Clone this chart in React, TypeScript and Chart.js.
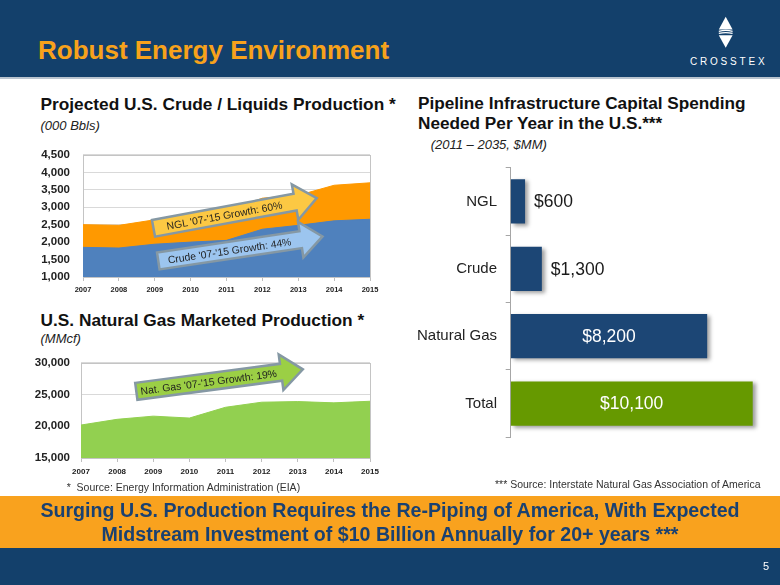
import React, { useEffect, useRef } from 'react';
import { Chart, registerables } from 'chart.js';

Chart.register(...registerables);

const FONT = "'Liberation Sans', Arial, Helvetica, sans-serif";

// ---- Data ----
const years = ['2007', '2008', '2009', '2010', '2011', '2012', '2013', '2014', '2015'];
const crudeProduction = [1850, 1830, 1940, 2000, 2050, 2370, 2480, 2610, 2655];
const totalLiquids = [2500, 2480, 2640, 2740, 2880, 3260, 3340, 3630, 3700];
const natGasProduction = [20200, 21100, 21600, 21300, 23000, 23800, 23900, 23700, 23950];
const spendCategories = ['NGL', 'Crude', 'Natural Gas', 'Total'];
const spendValues = [600, 1300, 8200, 10100];

const NAVY = '#1c4675';
const GREEN_BAR = '#669900';

const fmt = (v: any) => Number(v).toLocaleString('en-US');

const plotBorder = {
  id: 'plotBorder',
  beforeDatasetsDraw(chart: any) {
    const { ctx, chartArea: a } = chart;
    ctx.save();
    ctx.strokeStyle = '#c4c4c4';
    ctx.lineWidth = 1;
    ctx.strokeRect(Math.round(a.left) + 0.5, Math.round(a.top) + 0.5, Math.round(a.right - a.left), Math.round(a.bottom - a.top));
    ctx.restore();
  },
};

const barShadow = {
  id: 'barShadow',
  beforeDatasetDraw(chart: any) {
    const ctx = chart.ctx;
    ctx.save();
    ctx.shadowColor = 'rgba(0,0,0,0.38)';
    ctx.shadowBlur = 4;
    ctx.shadowOffsetX = 3;
    ctx.shadowOffsetY = 2;
  },
  afterDatasetDraw(chart: any) {
    chart.ctx.restore();
  },
};

const barLabels = {
  id: 'barLabels',
  afterDatasetsDraw(chart: any) {
    const ctx = chart.ctx;
    const meta = chart.getDatasetMeta(0);
    ctx.save();
    ctx.font = `17.5px ${FONT}`;
    ctx.textBaseline = 'middle';
    meta.data.forEach((el: any, i: number) => {
      const v = spendValues[i];
      const txt = '$' + fmt(v);
      if (v < 3000) {
        ctx.fillStyle = '#1a1a1a';
        ctx.textAlign = 'left';
        ctx.fillText(txt, el.x + 9, el.y + 1);
      } else {
        ctx.fillStyle = '#ffffff';
        ctx.textAlign = 'center';
        ctx.fillText(txt, (el.x + el.base) / 2, el.y + 1);
      }
    });
    ctx.restore();
  },
};

function useChart(ref: React.RefObject<HTMLCanvasElement>, make: () => any) {
  useEffect(() => {
    if (!ref.current) return;
    const c = new Chart(ref.current, make());
    return () => c.destroy();
  }, []);
}

function Arrow({ x, y, angle, len, fill, label }: any) {
  const t = 17, T = 36, h = 22;
  const pts = [
    [0, -t / 2], [len - h, -t / 2], [len - h, -T / 2], [len, 0],
    [len - h, T / 2], [len - h, t / 2], [0, t / 2],
  ].map((p) => p.join(',')).join(' ');
  return (
    <g transform={`translate(${x},${y}) rotate(${angle})`}>
      <polygon points={pts} fill={fill} stroke="#8598a4" strokeWidth={2.5} />
      <text x={(len - h) / 2} y={0.5} textAnchor="middle" dominantBaseline="central"
        fontSize={10.4} fontFamily={FONT} fill="#1e1e1e">{label}</text>
    </g>
  );
}

const txt = (extra: React.CSSProperties): React.CSSProperties => ({
  position: 'absolute', whiteSpace: 'pre', lineHeight: 1, fontFamily: FONT, ...extra,
});

export default function App() {
  const liquidsRef = useRef<HTMLCanvasElement>(null);
  const gasRef = useRef<HTMLCanvasElement>(null);
  const spendRef = useRef<HTMLCanvasElement>(null);

  useEffect(() => {
    document.body.style.margin = '0';
  }, []);

  useChart(liquidsRef, () => ({
    type: 'line',
    data: {
      labels: years,
      datasets: [
        { label: 'Crude', data: crudeProduction, fill: 'start', backgroundColor: '#4f81bd', borderColor: '#4f81bd', borderWidth: 1, pointRadius: 0, tension: 0 },
        { label: 'Crude + NGL', data: totalLiquids, fill: 'start', backgroundColor: '#ff9900', borderColor: '#ff9900', borderWidth: 1, pointRadius: 0, tension: 0 },
      ],
    },
    options: {
      animation: false, responsive: false,
      layout: { padding: { left: 8, right: 20, top: 8, bottom: 0 } },
      plugins: { legend: { display: false }, tooltip: { enabled: false } },
      scales: {
        x: {
          grid: { drawOnChartArea: false, drawTicks: true, tickLength: 4, color: '#bfbfbf' },
          border: { display: false },
          ticks: { font: { size: 7.5, weight: 'bold', family: FONT }, color: '#222', padding: 4, maxRotation: 0, autoSkip: false },
          afterFit: (s: any) => { s.height = 23; },
        },
        y: {
          min: 1000, max: 4500,
          ticks: { stepSize: 500, font: { size: 11.5, weight: 'bold', family: FONT }, color: '#222', padding: 13, callback: fmt },
          grid: { color: '#d9d9d9', drawTicks: false },
          border: { display: false },
          afterFit: (s: any) => { s.width = 55; },
        },
      },
    },
    plugins: [plotBorder],
  }));

  useChart(gasRef, () => ({
    type: 'line',
    data: {
      labels: years,
      datasets: [
        { label: 'Natural Gas', data: natGasProduction, fill: 'start', backgroundColor: '#92d050', borderColor: '#92d050', borderWidth: 1, pointRadius: 0, tension: 0 },
      ],
    },
    options: {
      animation: false, responsive: false,
      layout: { padding: { left: 6, right: 20, top: 10, bottom: 0 } },
      plugins: { legend: { display: false }, tooltip: { enabled: false } },
      scales: {
        x: {
          grid: { drawOnChartArea: false, drawTicks: true, tickLength: 4, color: '#bfbfbf' },
          border: { display: false },
          ticks: { font: { size: 8, weight: 'bold', family: FONT }, color: '#222', padding: 5, maxRotation: 0, autoSkip: false },
          afterFit: (s: any) => { s.height = 27; },
        },
        y: {
          min: 15000, max: 30000,
          ticks: { stepSize: 5000, font: { size: 11.5, weight: 'bold', family: FONT }, color: '#222', padding: 11, callback: fmt },
          grid: { color: '#d9d9d9', drawTicks: false },
          border: { display: false },
          afterFit: (s: any) => { s.width = 55; },
        },
      },
    },
    plugins: [plotBorder],
  }));

  useChart(spendRef, () => ({
    type: 'bar',
    data: {
      labels: spendCategories,
      datasets: [{
        label: 'Capital spending',
        data: spendValues,
        backgroundColor: [NAVY, NAVY, NAVY, GREEN_BAR],
        barPercentage: 0.657, categoryPercentage: 1,
      }],
    },
    options: {
      indexAxis: 'y',
      animation: false, responsive: false,
      layout: { padding: { top: 8.3, bottom: 6.7, left: 0, right: 9.7 } },
      plugins: { legend: { display: false }, tooltip: { enabled: false } },
      scales: {
        x: { display: false, min: 0, max: 10500 },
        y: {
          grid: { drawOnChartArea: false, drawTicks: true, tickLength: 5, color: '#a6a6a6' },
          border: { color: '#a6a6a6' },
          ticks: { font: { size: 15, family: FONT }, color: '#222', padding: 8.7 },
          afterFit: (s: any) => { s.width = 110.7; },
        },
      },
    },
    plugins: [barShadow, barLabels],
  }));

  return (
    <div style={{ position: 'absolute', left: 0, top: 0, width: 780, height: 585, background: '#ffffff', overflow: 'hidden', fontFamily: FONT }}>
      {/* header */}
      <div style={{ position: 'absolute', left: 0, top: 0, width: 780, height: 77, background: '#13406b' }} />
      <div style={{ position: 'absolute', left: 0, top: 77, width: 780, height: 2, background: '#b9c4cf' }} />
      <div style={txt({ left: 38, top: 37.3, fontSize: 26, fontWeight: 'bold', color: '#f7a21b' })}>Robust Energy Environment</div>
      <div style={txt({ left: 690, top: 56.5, fontSize: 10, color: '#ffffff', letterSpacing: 2.8 })}>CROSSTEX</div>

      {/* section titles */}
      <div style={txt({ left: 40.5, top: 95.5, fontSize: 17.3, fontWeight: 'bold', color: '#111' })}>Projected U.S. Crude / Liquids Production *</div>
      <div style={txt({ left: 40.5, top: 119, fontSize: 13, fontStyle: 'italic', color: '#222' })}>(000 Bbls)</div>
      <div style={txt({ left: 40.5, top: 311.5, fontSize: 17.3, fontWeight: 'bold', color: '#111' })}>U.S. Natural Gas Marketed Production *</div>
      <div style={txt({ left: 40.5, top: 332, fontSize: 13, fontStyle: 'italic', color: '#222' })}>(MMcf)</div>
      <div style={txt({ left: 418, top: 95, fontSize: 17.2, fontWeight: 'bold', color: '#111' })}>Pipeline Infrastructure Capital Spending</div>
      <div style={txt({ left: 418, top: 114.7, fontSize: 17.2, fontWeight: 'bold', color: '#111' })}>Needed Per Year in the U.S.***</div>
      <div style={txt({ left: 430.7, top: 137.6, fontSize: 13, fontStyle: 'italic', color: '#222' })}>(2011 – 2035, $MM)</div>

      {/* charts */}
      <canvas ref={liquidsRef} width={370} height={165} style={{ position: 'absolute', left: 20, top: 135, width: 370, height: 165 }} />
      <canvas ref={gasRef} width={370} height={140} style={{ position: 'absolute', left: 20, top: 345, width: 370, height: 140 }} />
      <canvas ref={spendRef} width={372} height={305} style={{ position: 'absolute', left: 400, top: 150, width: 372, height: 305 }} />

      {/* footnotes */}
      <div style={txt({ left: 66.7, top: 481.5, fontSize: 10.5, color: '#333' })}>{'*  Source: Energy Information Administration (EIA)'}</div>
      <div style={txt({ left: 495, top: 479, fontSize: 10.5, color: '#333' })}>*** Source: Interstate Natural Gas Association of America</div>

      {/* bottom bands */}
      <div style={{ position: 'absolute', left: 0, top: 496, width: 780, height: 52, background: '#f9a21e' }} />
      <div style={{ position: 'absolute', left: 0, top: 548, width: 780, height: 37, background: '#13406b' }} />
      <div style={txt({ left: 0, width: 780, textAlign: 'center', top: 501, fontSize: 19.6, fontWeight: 'bold', color: '#1a4171' })}>Surging U.S. Production Requires the Re-Piping of America, With Expected</div>
      <div style={txt({ left: 0, width: 780, textAlign: 'center', top: 524.8, fontSize: 19.6, fontWeight: 'bold', color: '#1a4171' })}>Midstream Investment of $10 Billion Annually for 20+ years ***</div>
      <div style={txt({ left: 763, top: 561, fontSize: 11, color: '#ffffff' })}>5</div>

      {/* overlay: arrows and logo */}
      <svg width={780} height={585} style={{ position: 'absolute', left: 0, top: 0, pointerEvents: 'none' }}>
        <polygon points="725.7,16.7 732.6,29.5 718.8,29.5" fill="#ffffff" />
        <path d="M718.8,31.3 Q725.7,29.6 732.6,31.3" stroke="#ffffff" strokeWidth={1.2} fill="none" />
        <path d="M718.8,33.4 Q725.7,31.7 732.6,33.4" stroke="#ffffff" strokeWidth={1.2} fill="none" />
        <polygon points="718.8,35.2 732.6,35.2 725.7,47.7" fill="#ffffff" />
        <Arrow x={153.5} y={228.3} angle={-10.5} len={166} fill="#fcc843" label="NGL '07-'15 Growth: 60%" />
        <Arrow x={158.3} y={261} angle={-8.5} len={166} fill="#9cc5ef" label="Crude '07-'15 Growth: 44%" />
        <Arrow x={136.3} y={391.3} angle={-7.5} len={168} fill="#9bcf45" label="Nat. Gas '07-'15 Growth: 19%" />
      </svg>
    </div>
  );
}
